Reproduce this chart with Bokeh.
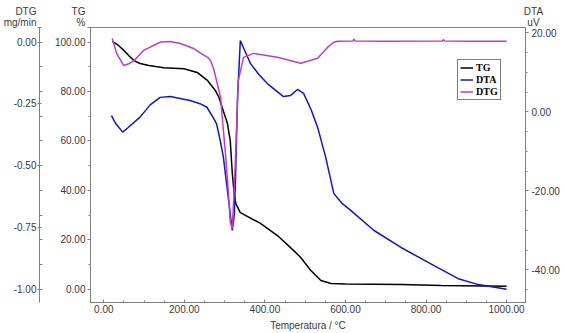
from bokeh.plotting import figure
from bokeh.models import (Range1d, LinearAxis, FixedTicker, NumeralTickFormatter,
                          Label, Legend, LegendItem)
from bokeh.embed import file_html
from bokeh.resources import INLINE

# ---------------- data ----------------
temp_tg = [21, 35, 50, 62, 75, 90, 112, 149, 199, 232, 257, 277, 286, 297, 307,
           314, 319, 324, 328, 339, 389, 431, 471, 489, 514, 539, 564, 600, 738,
           838, 1000]
tg = [100.3, 98.8, 96.6, 94.5, 92.5, 91.3, 90.5, 89.6, 89.2, 87.7, 84.5, 80.4,
      77.5, 72.0, 67.0, 60.0, 47.0, 38.0, 34.5, 31.0, 26.6, 21.7, 15.7, 12.8,
      7.6, 3.5, 2.3, 2.1, 1.9, 1.5, 1.2]

temp_dta = [19, 30, 47, 60, 90, 115, 140, 165, 214, 239, 256, 272, 280, 289,
            297, 309, 319, 324, 327, 332, 339, 350, 364, 385, 406, 446, 464,
            481, 496, 515, 531, 551, 571, 590, 613, 671, 738, 820, 880, 930,
            1000]
dta = [-0.9, -3.0, -5.1, -4.0, -1.3, 1.8, 3.7, 3.9, 2.9, 2.1, 1.2, -1.5, -3.0,
       -7.2, -11.5, -21.6, -30.0, -26.0, -17.3, 3.7, 18.1, 15.5, 12.3, 9.5, 7.2,
       3.9, 4.2, 5.7, 4.7, 0.5, -3.9, -11.5, -20.6, -23.0, -24.9, -30.0, -34.3,
       -38.9, -42.2, -43.7, -44.9]

temp_dtg = [21, 32, 49, 62, 75, 99, 141, 165, 190, 223, 240, 258, 265, 273, 282,
            290, 296, 302, 309, 314, 319, 323, 327, 334, 347, 372, 431, 489, 531,
            556, 571, 581, 619, 621, 624, 700, 841, 843, 846, 920, 1000]
dtg = [0.014, -0.046, -0.095, -0.088, -0.075, -0.034, 0.000, 0.002, -0.006,
       -0.026, -0.045, -0.062, -0.075, -0.110, -0.170, -0.224, -0.340, -0.450,
       -0.600, -0.730, -0.755, -0.620, -0.467, -0.155, -0.062, -0.046, -0.062,
       -0.086, -0.066, -0.021, -0.001, 0.003, 0.004, 0.012, 0.004, 0.003, 0.004,
       0.010, 0.004, 0.003, 0.003]

x_ticks = [0, 200, 400, 600, 800, 1000]
x_minor = [0, 50, 100, 150, 200, 250, 300, 350, 400, 450, 500, 550, 600, 650,
           700, 750, 800, 850, 900, 950, 1000]
tg_ticks = [0, 20, 40, 60, 80, 100]
tg_minor = [0, 10, 20, 30, 40, 50, 60, 70, 80, 90, 100]
dtg_ticks = [-1.0, -0.75, -0.5, -0.25, 0.0]
dtg_minor = [-1.0, -0.9, -0.8, -0.7, -0.6, -0.5, -0.4, -0.3, -0.2, -0.1, 0.0]
dta_ticks = [-40, -20, 0, 20]
dta_minor = [-45, -40, -35, -30, -25, -20, -15, -10, -5, 0, 5, 10, 15, 20]

# axis ranges (view limits)
x_lim = (-33, 1047)
tg_lim = (-5.38, 105.87)
dtg_lim = (-1.0538, 0.0587)
dta_lim = (-48.23, 21.39)

# ---------------- styling ----------------
FONT = "Liberation Sans"
TXT = "#3a3a3a"
AX = "#808080"
FS = "10px"

p = figure(width=567, height=333, frame_width=435, frame_height=275,
           min_border_left=90, min_border_right=42, min_border_top=27,
           min_border_bottom=31, output_backend="svg", toolbar_location=None,
           x_range=Range1d(*x_lim), y_range=Range1d(*tg_lim),
           background_fill_color="white", border_fill_color="white")
p.grid.visible = False
p.outline_line_color = AX
p.outline_line_width = 1

p.extra_y_ranges = {"dtg": Range1d(*dtg_lim), "dta": Range1d(*dta_lim)}


def style_axis(ax, ticks, minor, fmt):
    ax.ticker = FixedTicker(ticks=ticks, minor_ticks=minor)
    ax.formatter = NumeralTickFormatter(format=fmt)
    ax.axis_line_color = AX
    ax.major_tick_line_color = AX
    ax.minor_tick_line_color = AX
    ax.major_label_text_font = FONT
    ax.major_label_text_font_size = FS
    ax.major_label_text_color = TXT


# x axis
xa = p.xaxis[0]
style_axis(xa, x_ticks, x_minor, "0.00")
xa.major_tick_in = 3
xa.major_tick_out = 0
xa.minor_tick_in = 2
xa.minor_tick_out = 0
xa.major_label_standoff = 2
xa.axis_label = "Temperatura / °C"
xa.axis_label_text_font = FONT
xa.axis_label_text_font_size = FS
xa.axis_label_text_font_style = "normal"
xa.axis_label_text_color = TXT
xa.axis_label_standoff = 4

# TG axis (next to frame); its unit title sits at the top end of the axis
ya = p.yaxis[0]
style_axis(ya, tg_ticks + [tg_lim[1]], tg_minor, "0.00")
ya.major_label_overrides = {tg_lim[1]: "TG\n%\n\n"}
ya.major_label_text_line_height = 1.0
ya.major_tick_out = 3
ya.major_tick_in = 0
ya.minor_tick_out = 2
ya.minor_tick_in = 0
ya.major_label_standoff = 2
ya.axis_label = " "
ya.axis_label_text_font_size = "8px"
ya.axis_label_standoff = 0

# DTG axis (far left)
dtg_axis = LinearAxis(y_range_name="dtg")
style_axis(dtg_axis, dtg_ticks + [dtg_lim[1]], dtg_minor, "0.00")
dtg_axis.major_label_overrides = {dtg_lim[1]: "DTG\nmg/min\n\n"}
dtg_axis.major_label_text_line_height = 1.0
dtg_axis.major_tick_out = 2
dtg_axis.major_tick_in = 2
dtg_axis.minor_tick_out = 0
dtg_axis.minor_tick_in = 3
dtg_axis.major_label_standoff = 1
p.add_layout(dtg_axis, "left")

# DTA axis (right)
dta_axis = LinearAxis(y_range_name="dta")
style_axis(dta_axis, dta_ticks, dta_minor, "0.00")
dta_axis.major_tick_out = 3
dta_axis.major_tick_in = 0
dta_axis.minor_tick_out = 2
dta_axis.minor_tick_in = 0
dta_axis.major_label_standoff = 3
p.add_layout(dta_axis, "right")

# curves
r_tg = p.line(temp_tg, tg, line_color="black", line_width=1.5)
r_dta = p.line(temp_dta, dta, line_color="#1414c8", line_width=1.5, y_range_name="dta")
r_dtg = p.line(temp_dtg, dtg, line_color="#c23cc2", line_width=1.5, y_range_name="dtg")

legend = Legend(items=[LegendItem(label="TG", renderers=[r_tg]),
                       LegendItem(label="DTA", renderers=[r_dta]),
                       LegendItem(label="DTG", renderers=[r_dtg])],
                location=(367, 202))
legend.label_text_font = "Liberation Serif"
legend.label_text_font_style = "bold"
legend.label_text_font_size = "10px"
legend.label_text_color = "black"
legend.label_height = 11
legend.glyph_height = 11
legend.glyph_width = 13
legend.label_standoff = 3
legend.spacing = 1
legend.padding = 2
legend.margin = 0
legend.border_line_color = "black"
legend.border_line_width = 1
legend.background_fill_color = "white"
p.add_layout(legend)

# DTA unit title above the right axis
p.add_layout(Label(x=443, y=10.75, x_units="screen", y_units="screen", text="DTA\nuV",
                   text_align="center", text_baseline="middle", text_line_height=1.0,
                   text_font=FONT, text_font_size=FS, text_color=TXT), "above")

open("out.html", "w").write(file_html(p, INLINE))
